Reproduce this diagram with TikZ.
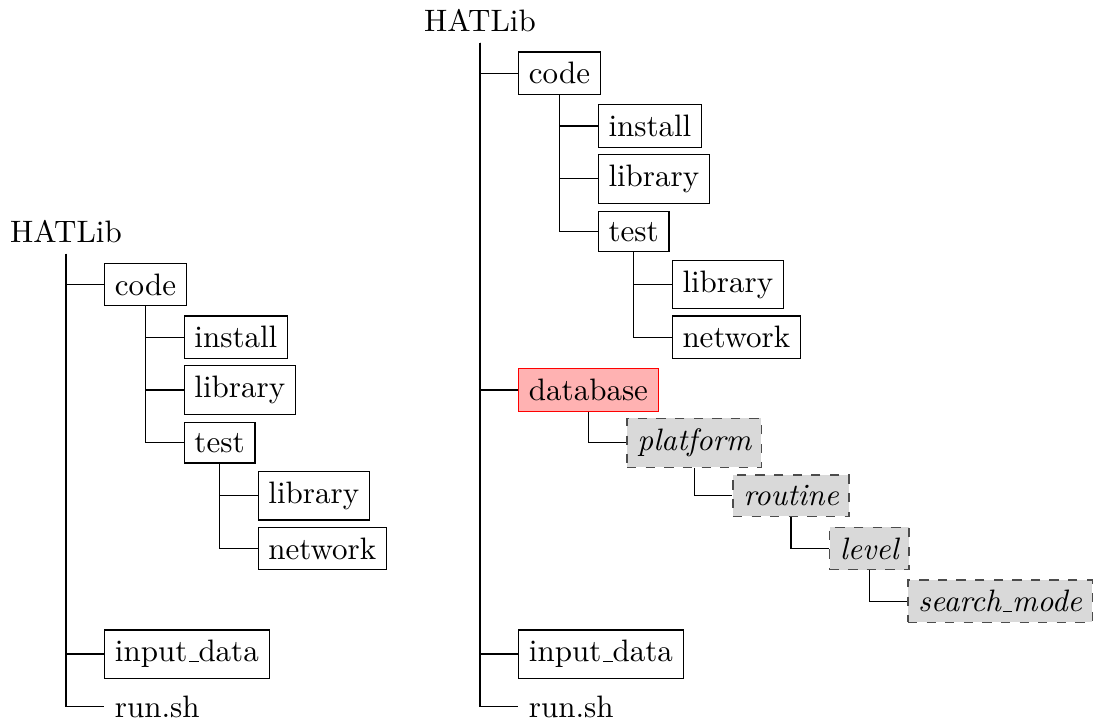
\documentclass[tikz,border=0pt]{standalone}
\usetikzlibrary{positioning}
\newcommand{\us}{\leavevmode\kern.06em\vbox{\hrule width.3em}}
\begin{document}
\begin{tikzpicture}[y = -17.03pt,
  dir/.style = {draw, anchor = west},
  leaf/.style = {anchor = west},
  hot/.style = {draw = red, fill = red!30, anchor = west},
  sub/.style = {draw = black!70, dashed, fill = gray!30, anchor = west, font = \itshape}]
\useasboundingbox (0pt,0pt) rectangle (352.9pt,-232.9pt);
\begin{scope}[xshift = 21.29pt, yshift = -74.74pt]
\node (rootL) at (0,0) {HATLib};
\node[dir] (codeL) at ([xshift = 12.26pt]rootL.south |- 0,1) {code};
\node[dir] (installL) at ([xshift = 12.26pt]codeL.south |- 0,2) {install};
\node[dir] (libL) at ([xshift = 12.26pt]codeL.south |- 0,3) {library};
\node[dir] (testL) at ([xshift = 12.26pt]codeL.south |- 0,4) {test};
\node[dir] (tlibL) at ([xshift = 12.26pt]testL.south |- 0,5) {library};
\node[dir] (netL) at ([xshift = 12.26pt]testL.south |- 0,6) {network};
\node[dir] (inputL) at ([xshift = 12.26pt]rootL.south |- 0,8) {input\us data};
\node[leaf] (runL) at ([xshift = 12.26pt]rootL.south |- 0,9) {run.sh};
\draw (rootL.south) |- (codeL.west);
\draw (rootL.south) |- (inputL.west);
\draw (rootL.south) |- (runL.west);
\draw (codeL.south) |- (installL.west);
\draw (codeL.south) |- (libL.west);
\draw (codeL.south) |- (testL.west);
\draw (testL.south) |- (tlibL.west);
\draw (testL.south) |- (netL.west);
\end{scope}
\begin{scope}[xshift = 154.84pt, yshift = -6.61pt]
\node (rootR) at (0,0) {HATLib};
\node[dir] (codeR) at ([xshift = 12.26pt]rootR.south |- 0,1) {code};
\node[dir] (installR) at ([xshift = 12.26pt]codeR.south |- 0,2) {install};
\node[dir] (libR) at ([xshift = 12.26pt]codeR.south |- 0,3) {library};
\node[dir] (testR) at ([xshift = 12.26pt]codeR.south |- 0,4) {test};
\node[dir] (tlibR) at ([xshift = 12.26pt]testR.south |- 0,5) {library};
\node[dir] (netR) at ([xshift = 12.26pt]testR.south |- 0,6) {network};
\node[hot] (db) at ([xshift = 12.26pt]rootR.south |- 0,7) {database};
\node[sub] (plat) at ([xshift = 12.26pt]db.south |- 0,8) {platform};
\node[sub] (rout) at ([xshift = 12.26pt]plat.south |- 0,9) {routine};
\node[sub] (lvl) at ([xshift = 12.26pt]rout.south |- 0,10) {level};
\node[sub] (smode) at ([xshift = 12.26pt]lvl.south |- 0,11) {search\us mode};
\node[dir] (inputR) at ([xshift = 12.26pt]rootR.south |- 0,12) {input\us data};
\node[leaf] (runR) at ([xshift = 12.26pt]rootR.south |- 0,13) {run.sh};
\draw (rootR.south) |- (codeR.west);
\draw (rootR.south) |- (db.west);
\draw (rootR.south) |- (inputR.west);
\draw (rootR.south) |- (runR.west);
\draw (codeR.south) |- (installR.west);
\draw (codeR.south) |- (libR.west);
\draw (codeR.south) |- (testR.west);
\draw (testR.south) |- (tlibR.west);
\draw (testR.south) |- (netR.west);
\draw (db.south) |- (plat.west);
\draw (plat.south) |- (rout.west);
\draw (rout.south) |- (lvl.west);
\draw (lvl.south) |- (smode.west);
\end{scope}
\end{tikzpicture}
\end{document}
